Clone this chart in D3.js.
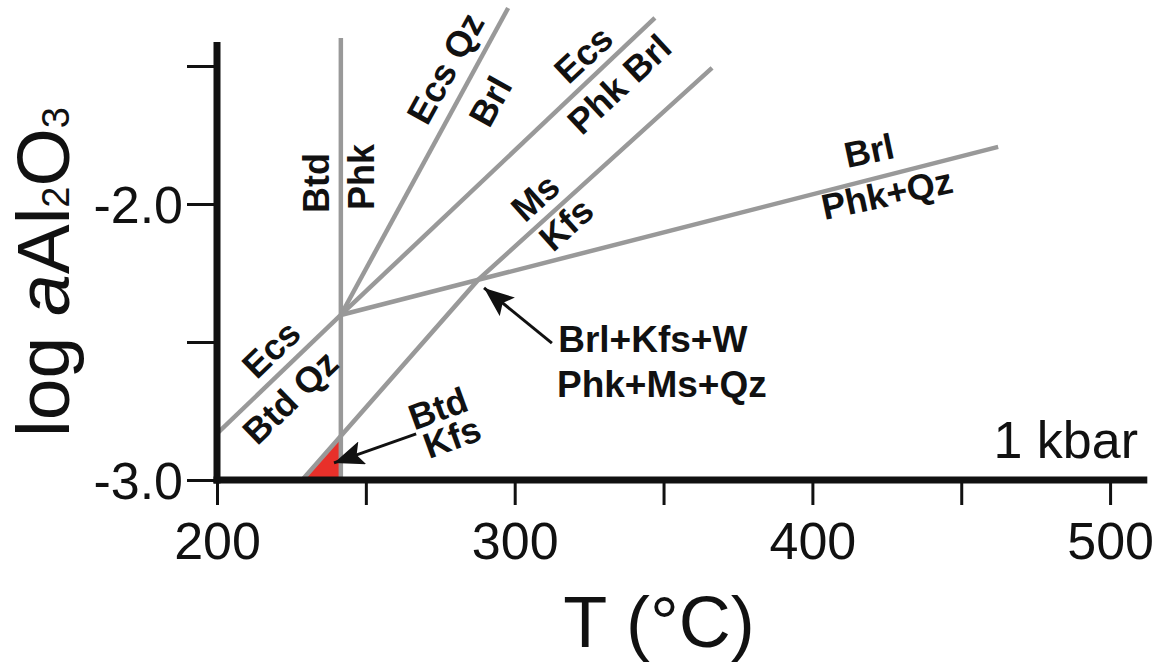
<!DOCTYPE html>
<html>
<head>
<meta charset="utf-8">
<script src="https://cdn.jsdelivr.net/npm/d3@7"></script>
<style>
  body { margin: 0; background: #fff; }
  svg { display: block; font-family: "Liberation Sans", Arial, Helvetica, sans-serif; }
</style>
</head>
<body>
<svg id="chart" width="1161" height="664"></svg>
<script>
// axis ticks
const tempTicks = [200, 250, 300, 350, 400, 450, 500];
const tempLabels = [200, 300, 400, 500];
const logaTicks = [-3.0, -2.5, -2.0, -1.5];
const logaLabels = [-3.0, -2.0];

// reaction curves as [T (°C), log aAl2O3]
const btdPhk    = [[241.6, -3.0], [241.6, -1.399]];
const ecsBtdQz  = [[200.0, -2.832], [241.6, -2.402]];
const ecsQzBrl  = [[241.6, -2.402], [297.8, -1.290]];
const ecsPhkBrl = [[241.6, -2.402], [347.1, -1.326]];
const brlPhkQz  = [[241.6, -2.402], [462.4, -1.793]];
const msKfs     = [[228.6, -3.0], [287.7, -2.275], [366.3, -1.507]];

// field labels, anchored in T / log a
const fieldLabels = [
  {text: "Btd",     t: 233.3, a: -1.924, rot: -90},
  {text: "Phk",     t: 248.4, a: -1.902, rot: -90},
  {text: "Ecs",     t: 218.1, a: -2.525, rot: -44},
  {text: "Btd Qz",  t: 224.5, a: -2.699, rot: -44},
  {text: "Ecs Qz",  t: 276.6, a: -1.507, rot: -61},
  {text: "Brl",     t: 291.7, a: -1.627, rot: -61},
  {text: "Ecs",     t: 323.0, a: -1.457, rot: -43},
  {text: "Phk Brl", t: 335.0, a: -1.565, rot: -43},
  {text: "Ms",      t: 306.8, a: -1.975, rot: -42},
  {text: "Kfs",     t: 317.2, a: -2.072, rot: -42},
  {text: "Brl",     t: 419.0, a: -1.805, rot: -12},
  {text: "Phk+Qz",  t: 425.0, a: -1.962, rot: -12},
  {text: "Btd",     t: 274.2, a: -2.739, rot: -20},
  {text: "Kfs",     t: 278.9, a: -2.844, rot: -20}
];
const pointLabels = [
  {text: "Brl+Kfs+W", t: 314.6, a: -2.536},
  {text: "Phk+Ms+Qz", t: 314.2, a: -2.699}
];
const arrows = [
  {from: [312.5, -2.504], to: [289.7, -2.304]},
  {from: [266.9, -2.833], to: [239.3, -2.938]}
];

const svg = d3.select("#chart");

const x = d3.scaleLinear().domain([200, 512.5]).range([217, 1147.3]);
const y = d3.scaleLinear().domain([-3, -1.4]).range([480, 38.4]);

const line = d3.line().x(d => x(d[0])).y(d => y(d[1]));

// red stability field: below Ms/Kfs, left of Btd/Phk
const tv = btdPhk[0][0];
const p0 = msKfs[0], p1 = msKfs[1];
const av = p0[1] + (tv - p0[0]) / (p1[0] - p0[0]) * (p1[1] - p0[1]);
svg.append("path")
  .attr("d", line([p0, [tv, -3], [tv, av]]) + "Z")
  .attr("fill", "#e8302a");

// reaction lines
svg.append("g").selectAll("path")
  .data([btdPhk, ecsBtdQz, ecsQzBrl, ecsPhkBrl, brlPhkQz, msKfs])
  .enter().append("path")
  .attr("d", line)
  .attr("fill", "none")
  .attr("stroke", "#999")
  .attr("stroke-width", 4.5);

// axes
const xAxis = svg.append("g")
  .attr("transform", "translate(0," + y(-3) + ")")
  .call(d3.axisBottom(x).tickValues(tempTicks).tickSize(25).tickPadding(17)
    .tickFormat(d => tempLabels.includes(d) ? d : ""));
const yAxis = svg.append("g")
  .attr("transform", "translate(" + x(200) + ",0)")
  .call(d3.axisLeft(y).tickValues(logaTicks).tickSize(30).tickPadding(4)
    .tickFormat(d => logaLabels.includes(d) ? d.toFixed(1) : ""));
[xAxis, yAxis].forEach(g => {
  g.select(".domain").remove();
  g.selectAll(".tick line").attr("stroke", "#111").attr("stroke-width", 3);
  g.selectAll(".tick text").attr("fill", "#111").style("font-size", "52px")
    .style("font-family", "inherit");
});
yAxis.selectAll(".tick text").attr("dy", "0.36em");

svg.append("line")
  .attr("x1", x(200) - 3.5).attr("x2", x(512.5))
  .attr("y1", y(-3)).attr("y2", y(-3))
  .attr("stroke", "#111").attr("stroke-width", 7);
svg.append("line")
  .attr("x1", x(200)).attr("x2", x(200))
  .attr("y1", y(-1.413)).attr("y2", y(-3) + 3.5)
  .attr("stroke", "#111").attr("stroke-width", 7);

// axis titles
svg.append("text")
  .attr("x", 659).attr("y", 647)
  .attr("text-anchor", "middle")
  .style("font-size", "72px").attr("fill", "#111")
  .text("T (°C)");

const yt = svg.append("text")
  .attr("transform", "translate(69,272) rotate(-90)")
  .attr("text-anchor", "middle")
  .style("font-size", "75px").attr("fill", "#111");
yt.append("tspan").text("log ");
yt.append("tspan").style("font-style", "italic").text("a");
yt.append("tspan").text("Al");
yt.append("tspan").style("font-size", "38px").text("2");
yt.append("tspan").text("O");
yt.append("tspan").style("font-size", "38px").text("3");

svg.append("text")
  .attr("x", 1138).attr("y", 458)
  .attr("text-anchor", "end")
  .style("font-size", "52px").attr("fill", "#111")
  .text("1 kbar");

// field labels
svg.append("g").selectAll("text")
  .data(fieldLabels)
  .enter().append("text")
  .attr("transform", d => "translate(" + x(d.t) + "," + y(d.a) + ") rotate(" + d.rot + ")")
  .attr("text-anchor", "middle")
  .attr("dy", "0.36em")
  .style("font-size", "36px").style("font-weight", "bold").attr("fill", "#111")
  .text(d => d.text);

svg.append("g").selectAll("text")
  .data(pointLabels)
  .enter().append("text")
  .attr("x", d => x(d.t)).attr("y", d => y(d.a))
  .style("font-size", "37px").style("font-weight", "bold").attr("fill", "#111")
  .text(d => d.text);

// arrows
svg.append("defs").append("marker")
  .attr("id", "head")
  .attr("markerUnits", "userSpaceOnUse")
  .attr("markerWidth", 34).attr("markerHeight", 26)
  .attr("refX", 30).attr("refY", 12)
  .attr("orient", "auto")
  .append("path")
  .attr("d", "M0,0 L30,12 L0,24 L6,12 Z")
  .attr("fill", "#111");

svg.append("g").selectAll("line")
  .data(arrows)
  .enter().append("line")
  .attr("x1", d => x(d.from[0])).attr("y1", d => y(d.from[1]))
  .attr("x2", d => x(d.to[0])).attr("y2", d => y(d.to[1]))
  .attr("stroke", "#111").attr("stroke-width", 3)
  .attr("marker-end", "url(#head)");
</script>
</body>
</html>
